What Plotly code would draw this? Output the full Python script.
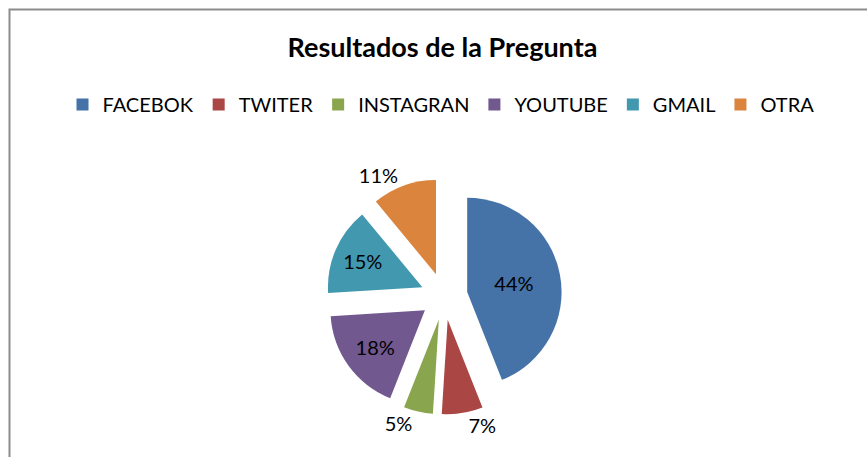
import plotly.graph_objects as go

categories = ["FACEBOK", "TWITER", "INSTAGRAN", "YOUTUBE", "GMAIL", "OTRA"]
values = [44, 7, 5, 18, 15, 11]
colors = ["#4572A7", "#AA4643", "#89A54E", "#71588F", "#4198AF", "#DB843D"]
label_pos = ["inside", "outside", "outside", "inside", "inside", "outside"]

W, H = 867, 457
cx, cy, half = 444, 296.5, 118

fig = go.Figure(go.Pie(
    labels=categories,
    values=values,
    sort=False,
    direction="clockwise",
    rotation=0,
    pull=[0.25] * len(values),
    marker=dict(colors=colors, line=dict(width=0)),
    textinfo="percent",
    texttemplate="%{percent:.0%}",
    textposition=label_pos,
    textfont=dict(family="Lato", size=20, color="black"),
    insidetextorientation="horizontal",
    automargin=False,
    domain=dict(x=[(cx - half) / W, (cx + half) / W],
                y=[(H - cy - half) / H, (H - cy + half) / H]),
    hoverinfo="label+percent",
))

fig.update_layout(
    width=W, height=H,
    margin=dict(l=0, r=0, t=0, b=0, autoexpand=False),
    paper_bgcolor="white",
    font=dict(family="Lato", color="black"),
    title=dict(text="<b>Resultados de la Pregunta</b>",
               x=442.5 / W, xanchor="center", y=1 - 47.5 / H, yanchor="middle",
               font=dict(family="Lato", size=27, color="black")),
    legend=dict(orientation="h", x=441 / W, xanchor="center",
                y=1 - 85 / H, yanchor="top",
                font=dict(family="Lato", size=20, color="black"),
                traceorder="normal"),
    shapes=[dict(type="rect", xref="paper", yref="paper",
                 x0=9.5 / W, x1=1.02, y0=-0.02, y1=1 - 9.5 / H,
                 line=dict(color="#8C8C8C", width=2), fillcolor="rgba(0,0,0,0)",
                 layer="below")],
)

fig.write_html(
    "out.html",
    config={"displayModeBar": False},
    post_script="document.body.style.margin='0';document.body.style.overflow='hidden';",
)
